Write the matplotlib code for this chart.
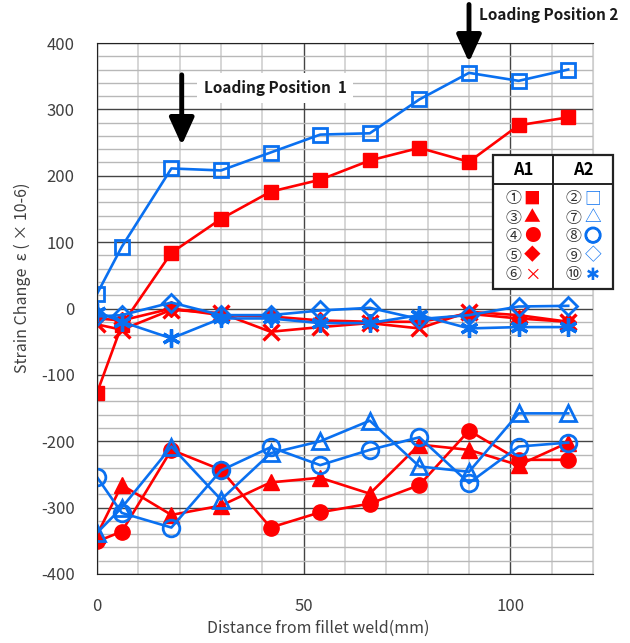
import matplotlib
matplotlib.use('Agg')
import matplotlib.pyplot as plt
import matplotlib.patheffects as pe
from matplotlib.patches import Rectangle
from matplotlib.lines import Line2D

plt.rcParams['font.family'] = ['Noto Sans CJK JP', 'DejaVu Sans']
plt.rcParams['axes.unicode_minus'] = False

# distance from fillet weld (mm)
x = [0, 6, 18, 30, 42, 54, 66, 78, 90, 102, 114]

# A1 gauges (red, filled)
g1 = [-127, -25, 84, 135, 176, 194, 223, 242, 221, 276, 288]
g3 = [-341, -266, -311, -297, -262, -255, -279, -205, -213, -236, -202]
g4 = [-351, -336, -213, -243, -330, -307, -294, -266, -184, -228, -228]
g5 = [-15, -18, 0, -10, -12, -18, -20, -20, -8, -15, -20]
g6 = [-24, -32, -2, -7, -35, -28, -22, -30, -5, -10, -20]

# A2 gauges (blue, open)
g2 = [22, 93, 211, 208, 235, 262, 264, 315, 355, 343, 360]
g7 = [-338, -300, -208, -288, -218, -200, -169, -238, -246, -158, -158]
g8 = [-254, -308, -330, -244, -209, -236, -213, -194, -263, -208, -202]
g9 = [-12, -10, 9, -10, -10, -3, 1, -16, -10, 3, 4]
g10 = [-5, -20, -45, -15, -15, -22, -22, -10, -30, -28, -28]

red = '#ff0000'
blue = '#0a70f0'

fig = plt.figure(figsize=(6.3, 6.43), dpi=100)
ax = fig.add_axes([97/630, 1-574/643, 496/630, 531/643])

ax.set_xlim(0, 120)
ax.set_ylim(-400, 400)
ax.set_xticks([0, 50, 100])
ax.set_xticks(range(0, 121, 10), minor=True)
ax.set_yticks(range(-400, 401, 100))
ax.set_yticks(range(-400, 401, 20), minor=True)
ax.grid(True, which='major', color='#444444', lw=1.0)
ax.grid(True, which='minor', axis='x', color='#cfcfcf', lw=1.2)
ax.grid(True, which='minor', axis='y', color='#b8b8b8', lw=1.0)
ax.set_axisbelow(True)
ax.tick_params(which='both', length=0)
ax.tick_params(axis='y', pad=16, labelsize=12, labelcolor='#404040')
ax.tick_params(axis='x', pad=17, labelsize=12, labelcolor='#404040')
for s in ['left', 'bottom', 'top']:
    ax.spines[s].set_color('#222222')
ax.spines['right'].set_color('#cfcfcf')

lw = 1.9
ax.plot(x, g1, color=red, lw=lw, marker='s', ms=9.5)
ax.plot(x, g3, color=red, lw=lw, marker='^', ms=11)
ax.plot(x, g4, color=red, lw=lw, marker='o', ms=11)
ax.plot(x, g5, color=red, lw=lw, marker='D', ms=8)
ax.plot(x, g6, color=red, lw=lw, marker='x', ms=12, mew=2.4)

ax.plot(x, g2, color=blue, lw=lw, marker='s', ms=10, mfc='none', mew=2)
ax.plot(x, g7, color=blue, lw=lw, marker='^', ms=12, mfc='none', mew=2)
ax.plot(x, g8, color=blue, lw=lw, marker='o', ms=12, mfc='none', mew=2)
ax.plot(x, g9, color=blue, lw=lw, marker='D', ms=9.5, mfc='none', mew=2)
ax.plot(x, g10, color=blue, lw=lw, marker=(6, 2, 0), ms=13, mew=2.4)

ax.set_xlabel('Distance from fillet weld(mm)', fontsize=11.5, color='#404040', va='center')
ax.xaxis.set_label_coords(318/630, 1-628/643, transform=fig.transFigure)
fig.text(22/630, 1-278/643, 'Strain Change  ε ( × 10-6)', rotation=90,
         ha='center', va='center', fontsize=11.5, color='#404040')

# loading position arrows
arrow = dict(arrowstyle='-|>,head_length=1.1,head_width=0.5', lw=3.5,
             color='black', mutation_scale=15, shrinkA=0, shrinkB=0)
ax.annotate('', xy=(90, 371), xytext=(90, 458), arrowprops=arrow,
            annotation_clip=False)
ax.annotate('', xy=(20.5, 246), xytext=(20.5, 352), arrowprops=arrow)
ax.text(92.5, 442, 'Loading Position 2', fontsize=11, fontweight='bold',
        color='#1a1a1a', va='center', ha='left', clip_on=False)
ax.text(25.8, 332, 'Loading Position  1', fontsize=11, fontweight='bold',
        color='#1a1a1a', va='center', ha='left',
        bbox=dict(fc='white', ec='none', pad=5))

# legend table
W, H = 630, 643
def fx(px):
    return px / W
def fy(py):
    return 1 - py / H

fig.patches.append(Rectangle((fx(493), fy(289)), fx(613) - fx(493), fy(155) - fy(289),
                             transform=fig.transFigure, fc='white', ec='#222222', lw=1.6))
fig.add_artist(Line2D([fx(553), fx(553)], [fy(155), fy(289)], color='#222222', lw=1.4,
                      transform=fig.transFigure))
fig.add_artist(Line2D([fx(493), fx(613)], [fy(184), fy(184)], color='#222222', lw=1.4,
                      transform=fig.transFigure))
fig.text(fx(523), fy(170), 'A1', ha='center', va='center', fontsize=12, fontweight='bold')
fig.text(fx(583), fy(170), 'A2', ha='center', va='center', fontsize=12, fontweight='bold')

a1_nums = ['①', '③', '④', '⑤', '⑥']
a1_syms = ['■', '▲', '●', '◆', '×']
a2_nums = ['②', '⑦', '⑧', '⑨', '⑩']
a2_syms = ['□', '△', '○', '◇', '✱']
rows = [199, 218, 237, 256, 275]
for i, r in enumerate(rows):
    fig.text(fx(514), fy(r), a1_nums[i], ha='center', va='center', fontsize=11.5, color='#333333')
    fig.text(fx(532), fy(r), a1_syms[i], ha='center', va='center', fontsize=12, color=red)
    fig.text(fx(573), fy(r), a2_nums[i], ha='center', va='center', fontsize=11.5, color='#333333')
    t = fig.text(fx(593), fy(r), a2_syms[i], ha='center', va='center', fontsize=12,
                 color=blue)
    if i == 2:
        # the circle in the reference is drawn with a heavier stroke
        t.set_path_effects([pe.withStroke(linewidth=1.6, foreground=blue)])

fig.savefig('out.png', dpi=100)
